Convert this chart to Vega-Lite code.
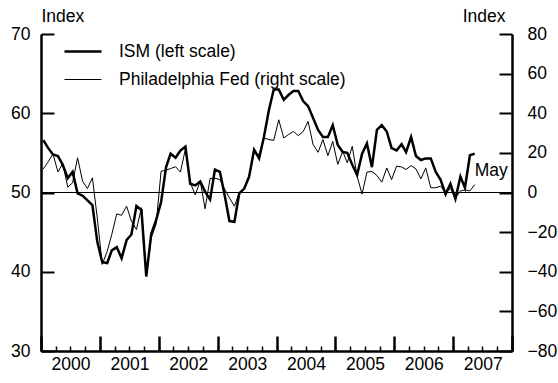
{
  "$schema": "https://vega.github.io/schema/vega-lite/v6.json",
  "width": 471,
  "height": 317,
  "autosize": "none",
  "padding": {"left": 41, "top": 34, "right": 46, "bottom": 32},
  "config": {
    "view": {"stroke": null},
    "font": "Liberation Sans",
    "axis": {
      "domainColor": "black", "domainWidth": 2.5, "tickColor": "black", "tickWidth": 2,
      "labelColor": "black", "labelFont": "Liberation Sans", "labelFontSize": 17.5,
      "titleColor": "black", "titleFont": "Liberation Sans", "titleFontSize": 17.5, "titleFontWeight": "normal",
      "grid": false
    },
    "legend": {"labelFont": "Liberation Sans", "labelFontSize": 17.5, "labelColor": "black", "labelLimit": 400}
  },
  "title": {
    "text": "Source: Manufacturing ISM Report on Business; Federal Reserve Bank of Philadelphia.",
    "orient": "bottom", "anchor": "start", "dx": 19, "offset": 11,
    "font": "Liberation Sans", "fontSize": 17.5, "fontWeight": "normal", "color": "black"
  },
  "data": {"values": [
    {"d":"2000-01-15","ism":56.6,"phil":11.9},{"d":"2000-02-15","ism":55.6,"phil":15.5},{"d":"2000-03-15","ism":54.8,"phil":19.5},
    {"d":"2000-04-15","ism":54.6,"phil":10.4},{"d":"2000-05-15","ism":53.5,"phil":14.5},{"d":"2000-06-15","ism":51.8,"phil":2.7},
    {"d":"2000-07-15","ism":52.6,"phil":4.9},{"d":"2000-08-15","ism":49.9,"phil":17.5},{"d":"2000-09-15","ism":49.6,"phil":5.7},
    {"d":"2000-10-15","ism":49.0,"phil":2.0},{"d":"2000-11-15","ism":48.4,"phil":7.4},{"d":"2000-12-15","ism":43.8,"phil":-12.8},
    {"d":"2001-01-15","ism":41.2,"phil":-36.3},{"d":"2001-02-15","ism":41.1,"phil":-29.6},{"d":"2001-03-15","ism":42.7,"phil":-21.2},
    {"d":"2001-04-15","ism":43.1,"phil":-10.8},{"d":"2001-05-15","ism":41.7,"phil":-11.5},{"d":"2001-06-15","ism":44.0,"phil":-6.9},
    {"d":"2001-07-15","ism":44.7,"phil":-14.5},{"d":"2001-08-15","ism":48.3,"phil":-18.7},{"d":"2001-09-15","ism":47.8,"phil":-7.7},
    {"d":"2001-10-15","ism":39.4,"phil":-42.2},{"d":"2001-11-15","ism":44.8,"phil":-22.8},{"d":"2001-12-15","ism":46.5,"phil":-16.1},
    {"d":"2002-01-15","ism":48.8,"phil":10.7},{"d":"2002-02-15","ism":53.2,"phil":11.3},{"d":"2002-03-15","ism":54.9,"phil":12.1},
    {"d":"2002-04-15","ism":54.4,"phil":13.0},{"d":"2002-05-15","ism":55.3,"phil":10.3},{"d":"2002-06-15","ism":55.8,"phil":22.0},
    {"d":"2002-07-15","ism":51.1,"phil":5.0},{"d":"2002-08-15","ism":50.9,"phil":-1.2},{"d":"2002-09-15","ism":51.4,"phil":5.7},
    {"d":"2002-10-15","ism":50.1,"phil":-8.2},{"d":"2002-11-15","ism":49.1,"phil":7.0},{"d":"2002-12-15","ism":52.9,"phil":7.2},
    {"d":"2003-01-15","ism":52.6,"phil":6.5},{"d":"2003-02-15","ism":49.5,"phil":1.5},{"d":"2003-03-15","ism":46.4,"phil":-2.7},
    {"d":"2003-04-15","ism":46.3,"phil":-6.9},{"d":"2003-05-15","ism":49.9,"phil":0.0},{"d":"2003-06-15","ism":50.5,"phil":2.0},
    {"d":"2003-07-15","ism":52.0,"phil":7.4},{"d":"2003-08-15","ism":55.4,"phil":20.8},{"d":"2003-09-15","ism":54.3,"phil":19.1},
    {"d":"2003-10-15","ism":57.0,"phil":27.5},{"d":"2003-11-15","ism":60.4,"phil":26.7},{"d":"2003-12-15","ism":63.0,"phil":26.3},
    {"d":"2004-01-15","ism":63.0,"phil":36.7},{"d":"2004-02-15","ism":61.7,"phil":27.5},{"d":"2004-03-15","ism":62.3,"phil":29.2},
    {"d":"2004-04-15","ism":62.8,"phil":30.8},{"d":"2004-05-15","ism":62.8,"phil":28.7},{"d":"2004-06-15","ism":61.5,"phil":30.8},
    {"d":"2004-07-15","ism":60.9,"phil":35.9},{"d":"2004-08-15","ism":59.4,"phil":24.2},{"d":"2004-09-15","ism":57.9,"phil":20.3},
    {"d":"2004-10-15","ism":57.0,"phil":26.7},{"d":"2004-11-15","ism":57.0,"phil":18.6},{"d":"2004-12-15","ism":58.5,"phil":25.8},
    {"d":"2005-01-15","ism":56.0,"phil":14.2},{"d":"2005-02-15","ism":55.1,"phil":20.8},{"d":"2005-03-15","ism":55.0,"phil":15.0},
    {"d":"2005-04-15","ism":53.5,"phil":23.3},{"d":"2005-05-15","ism":52.2,"phil":8.2},{"d":"2005-06-15","ism":54.9,"phil":-0.8},
    {"d":"2005-07-15","ism":56.2,"phil":10.3},{"d":"2005-08-15","ism":53.2,"phil":10.6},{"d":"2005-09-15","ism":57.9,"phil":8.6},
    {"d":"2005-10-15","ism":58.5,"phil":5.2},{"d":"2005-11-15","ism":57.7,"phil":12.4},{"d":"2005-12-15","ism":55.6,"phil":6.5},
    {"d":"2006-01-15","ism":55.3,"phil":13.3},{"d":"2006-02-15","ism":56.1,"phil":12.9},{"d":"2006-03-15","ism":55.1,"phil":11.6},
    {"d":"2006-04-15","ism":57.0,"phil":13.6},{"d":"2006-05-15","ism":54.6,"phil":11.9},{"d":"2006-06-15","ism":54.1,"phil":6.9},
    {"d":"2006-07-15","ism":54.3,"phil":12.4},{"d":"2006-08-15","ism":54.3,"phil":2.4},{"d":"2006-09-15","ism":52.6,"phil":2.4},
    {"d":"2006-10-15","ism":51.6,"phil":3.2},{"d":"2006-11-15","ism":49.8,"phil":0.0},{"d":"2006-12-15","ism":51.1,"phil":2.0},
    {"d":"2007-01-15","ism":49.2,"phil":-2.7},{"d":"2007-02-15","ism":52.0,"phil":0.8},{"d":"2007-03-15","ism":50.6,"phil":1.3},
    {"d":"2007-04-15","ism":54.7,"phil":0.8},{"d":"2007-05-15","ism":54.9,"phil":4.0}
  ]},
  "transform": [{"fold": ["ism", "phil"], "as": ["series", "value"]}],
  "resolve": {"scale": {"y": "independent"}, "axis": {"y": "independent", "x": "independent"}},
  "layer": [
    {
      "resolve": {"axis": {"y": "independent"}},
      "layer": [
        {
          "data": {"values": [{}]},
          "mark": {"type": "rule", "color": "black", "strokeWidth": 1},
          "encoding": {"y": {"datum": 50, "type": "quantitative",
            "axis": {"orient": "left", "values": [30, 40, 50, 60, 70], "offset": -13, "tickSize": 13, "tickWidth": 2,
              "labels": false, "domain": false, "title": null}}}
        },
        {
          "transform": [{"filter": "datum.series == 'ism'"}],
          "mark": {"type": "line", "strokeJoin": "miter"},
          "encoding": {
            "x": {"field": "d", "type": "temporal",
              "scale": {"type": "utc", "domain": [{"year": 2000, "month": 1, "date": 1, "utc": true}, {"year": 2008, "month": 1, "date": 1, "utc": true}]},
              "axis": {"orient": "bottom", "title": null, "tickCount": {"interval": "year", "step": 1}, "tickSize": -15, "tickWidth": 2.5, "labelPadding": 19,
                "labelOffset": 29.5, "labelBaseline": "top",
                "labelExpr": "utcyear(datum.value) < 2008 ? utcFormat(datum.value, '%Y') : ''",
                "labelFlush": false, "labelOverlap": false}},
            "y": {"field": "value", "type": "quantitative",
              "scale": {"domain": [30, 70], "nice": false, "zero": false},
              "axis": {"orient": "left", "values": [30, 40, 50, 60, 70], "title": "Index", "titleAngle": 0,
                "titleAlign": "left", "titleBaseline": "alphabetic", "titleX": 0, "titleY": -13,
                "ticks": false, "labelPadding": 11, "labelFlush": false}},
            "color": {"field": "series", "type": "nominal", "scale": {"domain": ["ism", "phil"], "range": ["black", "black"]},
              "legend": {"orient": "none", "legendX": 22, "legendY": -2.5, "title": null, "symbolType": "stroke",
                "symbolSize": 1369, "labelOffset": 16, "rowPadding": -17, "padding": 0,
                "labelExpr": "datum.label == 'ism' ? 'ISM (left scale)' : 'Philadelphia Fed (right scale)'"}},
            "strokeWidth": {"field": "series", "type": "nominal", "scale": {"domain": ["ism", "phil"], "range": [2.5, 1]},
              "legend": {"orient": "none", "legendX": 22, "legendY": -2.5, "title": null, "symbolType": "stroke",
                "symbolSize": 1369, "labelOffset": 16, "rowPadding": -17, "padding": 0,
                "labelExpr": "datum.label == 'ism' ? 'ISM (left scale)' : 'Philadelphia Fed (right scale)'"}}
          }
        },
        {
          "data": {"values": [{}]},
          "mark": {"type": "text", "text": "May", "align": "left", "baseline": "middle", "fontSize": 17.5, "font": "Liberation Sans", "color": "black"},
          "encoding": {
            "x": {"datum": {"year": 2007, "month": 5, "date": 15, "utc": true}, "type": "temporal"},
            "y": {"datum": 52.7, "type": "quantitative", "axis": null}
          }
        }
      ]
    },
    {
      "resolve": {"axis": {"y": "independent"}},
      "layer": [
        {
          "data": {"values": [{}]},
          "mark": {"type": "rule", "color": "black", "strokeWidth": 1},
          "encoding": {"y": {"datum": 0, "type": "quantitative",
            "axis": {"orient": "right", "values": [-80, -60, -40, -20, 0, 20, 40, 60, 80], "offset": -13, "tickSize": 13, "tickWidth": 2,
              "labels": false, "domain": false, "title": null}}}
        },
        {
          "transform": [{"filter": "datum.series == 'phil'"}],
          "mark": {"type": "line", "strokeJoin": "miter"},
          "encoding": {
            "x": {"field": "d", "type": "temporal",
              "scale": {"type": "utc", "domain": [{"year": 2000, "month": 1, "date": 1, "utc": true}, {"year": 2008, "month": 1, "date": 1, "utc": true}]},
              "axis": {"orient": "bottom", "title": null, "tickCount": {"interval": "month", "step": 3}, "tickSize": 5, "tickWidth": 1.5,
                "labels": false, "domain": false, "offset": -5}},
            "y": {"field": "value", "type": "quantitative",
              "scale": {"domain": [-80, 80], "nice": false, "zero": false},
              "axis": {"orient": "right", "values": [-80, -60, -40, -20, 0, 20, 40, 60, 80], "title": "Index", "titleAngle": 0,
                "titleAlign": "right", "titleBaseline": "alphabetic", "titleX": -7, "titleY": -13,
                "ticks": false, "labelPadding": 15, "labelFlush": false}},
            "color": {"field": "series", "type": "nominal", "scale": {"domain": ["ism", "phil"], "range": ["black", "black"]}},
            "strokeWidth": {"field": "series", "type": "nominal", "scale": {"domain": ["ism", "phil"], "range": [2.5, 1]}}
          }
        }
      ]
    }
  ]
}
